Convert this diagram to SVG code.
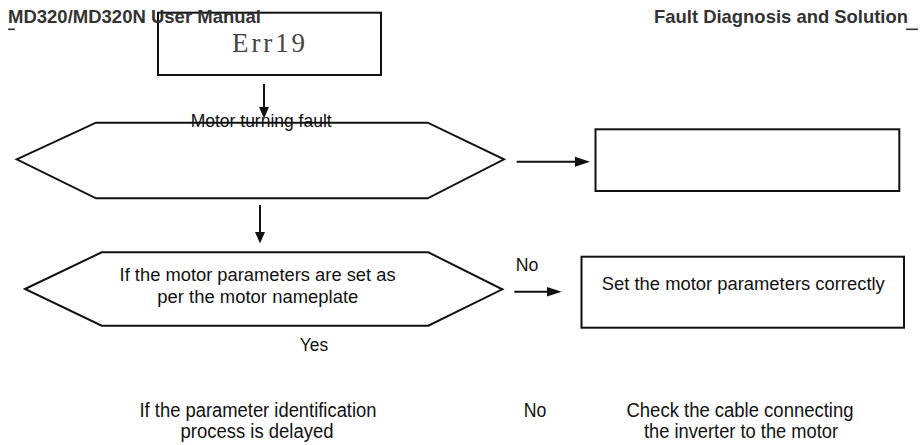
<svg xmlns="http://www.w3.org/2000/svg" width="923" height="445" viewBox="0 0 923 445">
<style>
.hdr{font-family:"Liberation Sans",Arial,sans-serif;font-weight:bold;font-size:18.4px;fill:#333}
.t{font-family:"Liberation Sans",Arial,sans-serif;font-size:18.3px;fill:#111;text-anchor:middle}
.tc{font-family:"Liberation Sans",Arial,sans-serif;font-size:19.5px;fill:#111;text-anchor:middle}
.box{fill:#fff;stroke:#111;stroke-width:2}
.ln{stroke:#111;stroke-width:2;fill:none}
.ah{fill:#111}
</style>
<rect width="923" height="445" fill="#fff"/>
<g id="err19">
<rect class="box" x="158" y="12.7" width="223" height="62.3"/>
<text x="268.5" y="52" text-anchor="middle" style="font-family:'Liberation Serif','Times New Roman',serif;font-size:27px;fill:#444" textLength="73" lengthAdjust="spacing">Err19</text>
</g>
<g id="header">
<text class="hdr" x="8" y="22.5" textLength="253" lengthAdjust="spacingAndGlyphs">MD320/MD320N User Manual</text>
<rect x="8" y="28.5" width="7" height="1.6" fill="#333"/>
<text class="hdr" x="654" y="23" textLength="254" lengthAdjust="spacingAndGlyphs">Fault Diagnosis and Solution</text>
<rect x="906" y="28.5" width="12" height="1.6" fill="#333"/>
</g>
<g id="decision1">
<polygon class="box" points="16.7,159.3 96,122.7 427.7,122.7 504,159.3 427.7,198.3 96,198.3"/>
</g>
<g id="box1">
<rect class="box" x="595.5" y="129.3" width="303.8" height="61.7"/>
</g>
<g id="decision2">
<polygon class="box" points="25,289 101.7,252.3 428.3,252.3 502.3,289.3 428.3,325.7 101.7,325.7"/>
<text class="t" x="257.6" y="280.7" textLength="276" lengthAdjust="spacingAndGlyphs">If the motor parameters are set as</text>
<text class="t" x="257.8" y="302.7" textLength="201" lengthAdjust="spacingAndGlyphs">per the motor nameplate</text>
</g>
<g id="box2">
<rect class="box" x="581.5" y="256.7" width="322.5" height="71"/>
<text class="t" x="743.3" y="290" textLength="283" lengthAdjust="spacingAndGlyphs">Set the motor parameters correctly</text>
</g>
<g id="decision3">
<text class="tc" x="258" y="417" textLength="237" lengthAdjust="spacingAndGlyphs">If the parameter identification</text>
<text class="tc" x="257" y="438" textLength="153" lengthAdjust="spacingAndGlyphs">process is delayed</text>
</g>
<g id="box3">
<text class="tc" x="740" y="417" textLength="227" lengthAdjust="spacingAndGlyphs">Check the cable connecting</text>
<text class="tc" x="741" y="438" textLength="194" lengthAdjust="spacingAndGlyphs">the inverter to the motor</text>
</g>
<g id="connectors">
<line class="ln" x1="264" y1="84" x2="264" y2="108"/>
<polygon class="ah" points="259,107 269,107 264,118.5"/>
<text class="t" x="261.2" y="127.3" textLength="141" lengthAdjust="spacingAndGlyphs">Motor turning fault</text>
<line class="ln" x1="260" y1="205" x2="260" y2="233"/>
<polygon class="ah" points="255,232 265,232 260,243.5"/>
<line class="ln" x1="516.7" y1="161.7" x2="576" y2="161.7"/>
<polygon class="ah" points="575,156.7 575,166.7 590,161.7"/>
<line class="ln" x1="514.3" y1="291.7" x2="548" y2="291.7"/>
<polygon class="ah" points="547,287 547,296.4 561.7,291.7"/>
<text class="t" x="527" y="270.7" textLength="22.6" lengthAdjust="spacingAndGlyphs">No</text>
<text class="t" x="314" y="350.7" textLength="28.3" lengthAdjust="spacingAndGlyphs">Yes</text>
<text class="tc" x="535" y="417" textLength="22.6" lengthAdjust="spacingAndGlyphs">No</text>
</g>
</svg>
